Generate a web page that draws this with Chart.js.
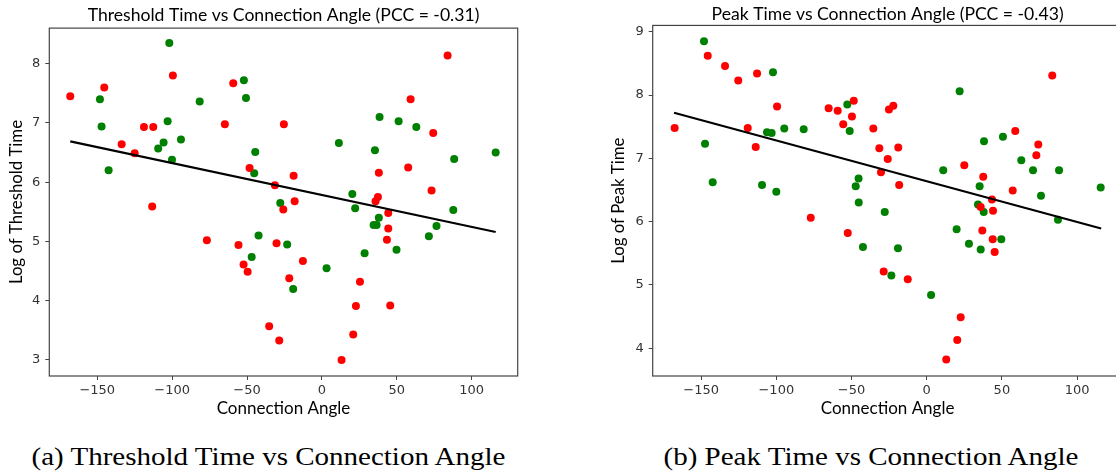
<!DOCTYPE html>
<html>
<head>
<meta charset="utf-8">
<script src="https://cdn.jsdelivr.net/npm/chart.js@4.4.1/dist/chart.umd.min.js"></script>
<style>
  html, body { margin: 0; padding: 0; background: #fff; overflow: hidden; width: 1116px; height: 472px; }
  .panel { position: absolute; top: 0; }
  .caption { position: absolute; top: 444px; text-align: center; font-family: "Liberation Serif", serif; font-size: 25px; line-height: 25px; color: #000; white-space: nowrap; transform: scaleX(1.16); transform-origin: center; }
</style>
</head>
<body>
<div class="panel" style="left:0"><canvas id="chart1" width="530" height="420"></canvas></div>
<div class="panel" style="left:600px"><canvas id="chart2" width="530" height="420"></canvas></div>
<div class="caption" style="left:0;width:537px">(a) Threshold Time vs Connection Angle</div>
<div class="caption" style="left:606px;width:530px">(b) Peak Time vs Connection Angle</div>
<script>
// tick labels
const xTickVals = [-150, -100, -50, 0, 50, 100];
const thrTickVals = [3, 4, 5, 6, 7, 8];
const peakTickVals = [4, 5, 6, 7, 8, 9];

// (a) threshold time
const thrRedAngle = [-168.0, -145.3, -133.7, -125.0, -118.8, -112.6, -113.3, -99.5, -76.8, -64.8, -59.2, -55.7, -52.3, -49.6, -48.3, -35.2, -31.4, -30.3, -28.5, -25.8, -25.4, -21.8, -18.9, -18.2, -12.7, 13.1, 20.9, 22.7, 25.4, 35.8, 37.4, 38.0, 43.4, 44.3, 44.3, 45.6, 57.6, 59.2, 73.2, 74.3, 83.9];
const thrRedLog = [7.45, 7.60, 6.64, 6.49, 6.93, 6.93, 5.59, 7.80, 5.02, 6.98, 7.67, 4.94, 4.61, 4.49, 6.24, 3.57, 5.95, 4.97, 3.33, 5.54, 6.98, 4.38, 6.11, 5.68, 4.67, 3.00, 3.43, 3.91, 4.32, 5.68, 5.75, 6.16, 5.03, 5.22, 5.48, 3.92, 6.25, 7.40, 5.86, 6.83, 8.14];
const thrGreenAngle = [-148.2, -147.1, -142.4, -109.3, -105.7, -103.0, -101.9, -100.1, -94.1, -81.6, -52.1, -50.7, -46.9, -45.2, -44.5, -42.3, -27.8, -23.2, -19.2, 3.1, 11.3, 20.3, 22.2, 28.5, 34.5, 35.4, 36.5, 38.0, 38.5, 49.8, 51.2, 63.0, 71.4, 76.5, 87.7, 88.3, 116.0];
const thrGreenLog = [7.40, 6.94, 6.20, 6.57, 6.67, 7.03, 8.35, 6.38, 6.72, 7.36, 7.72, 7.42, 4.74, 6.15, 6.51, 5.10, 5.65, 4.95, 4.20, 4.55, 6.66, 5.80, 5.56, 4.80, 5.28, 6.54, 5.28, 5.40, 7.10, 4.86, 7.03, 6.93, 5.09, 5.26, 5.53, 6.39, 6.50];

// (b) peak time
const peakRedAngle = [-167.6, -145.6, -134.1, -125.3, -119.0, -113.7, -112.8, -99.5, -77.1, -65.2, -59.2, -55.5, -52.5, -49.7, -48.5, -35.5, -31.5, -30.4, -28.6, -25.9, -25.1, -22.2, -18.9, -18.3, -12.6, 13.0, 20.3, 22.6, 25.0, 35.9, 37.0, 37.6, 43.4, 43.9, 44.1, 45.2, 57.2, 58.9, 72.9, 74.2, 83.5];
const peakRedLog = [7.48, 8.62, 8.46, 8.23, 7.48, 7.18, 8.34, 7.82, 6.06, 7.79, 7.75, 7.54, 5.82, 7.66, 7.91, 7.47, 7.16, 6.78, 5.21, 6.99, 7.77, 7.83, 7.17, 6.58, 5.09, 3.82, 4.13, 4.49, 6.89, 6.23, 5.86, 6.71, 6.35, 5.72, 6.17, 5.52, 6.49, 7.43, 7.05, 7.22, 8.31];
const peakGreenAngle = [-148.1, -147.4, -142.3, -109.5, -106.2, -103.1, -102.2, -100.0, -94.7, -81.8, -52.8, -51.2, -47.2, -45.3, -45.2, -42.4, -27.9, -23.5, -19.1, 2.9, 11.0, 19.9, 21.9, 28.1, 34.1, 35.2, 35.9, 37.9, 38.1, 49.6, 50.7, 62.9, 70.7, 76.0, 87.3, 88.0, 115.7];
const peakGreenLog = [8.85, 7.23, 6.62, 6.58, 7.41, 7.40, 8.36, 6.47, 7.47, 7.46, 7.85, 7.43, 6.56, 6.68, 6.30, 5.60, 6.15, 5.15, 5.58, 4.84, 6.81, 5.88, 8.06, 5.65, 6.27, 6.56, 5.56, 6.15, 7.27, 5.72, 7.34, 6.97, 6.81, 6.41, 6.03, 6.81, 6.54];

// fitted line end points
const fitAngle = [-168, 116];
const thrFitLog = [6.69, 5.16];
const peakFitLog = [7.72, 5.89];

const pts = (xs, ys) => xs.map((x, i) => ({ x: x, y: ys[i] }));
const minus = v => String(v).replace('-', '\u2212');

const boxPlugin = {
  id: 'box',
  afterDraw(chart) {
    const a = chart.chartArea, ctx = chart.ctx;
    ctx.save();
    ctx.strokeStyle = '#444';
    ctx.lineWidth = 1.2;
    ctx.strokeRect(a.left, a.top, a.right - a.left, a.bottom - a.top);
    ctx.restore();
  }
};

function makeChart(id, cfg) {
  return new Chart(document.getElementById(id), {
    type: 'scatter',
    data: {
      datasets: [
        { type: 'line', data: pts(fitAngle, cfg.fit), borderColor: '#000', borderWidth: 2.2, pointRadius: 0, order: 0 },
        { data: pts(cfg.redX, cfg.redY), backgroundColor: '#ff0000', borderWidth: 0, pointRadius: 4, order: 1 },
        { data: pts(cfg.greenX, cfg.greenY), backgroundColor: '#008000', borderWidth: 0, pointRadius: 4, order: 1 }
      ]
    },
    options: {
      responsive: false,
      animation: false,
      layout: { padding: { left: 0, right: cfg.padRight, top: 0, bottom: 0 } },
      plugins: {
        legend: { display: false },
        tooltip: { enabled: false },
        title: {
          display: true, fullSize: false, text: cfg.title, color: '#000',
          font: { family: 'Lato', size: 17.6, weight: 'normal' },
          padding: cfg.titlePad
        }
      },
      scales: {
        x: {
          type: 'linear', min: cfg.xMin, max: cfg.xMax,
          afterBuildTicks: s => { s.ticks = xTickVals.map(v => ({ value: v })); },
          afterFit: s => { s.height = 44; },
          grid: { drawOnChartArea: false, drawTicks: true, tickLength: 4, color: '#444' },
          border: { display: false },
          ticks: { callback: minus, color: '#333', padding: 3, maxRotation: 0, font: { family: 'DejaVu Sans', size: 13 } },
          title: { display: true, text: 'Connection Angle', color: '#000', font: { family: 'Lato', size: 17 }, padding: { top: 0, bottom: 0.8 } }
        },
        y: {
          type: 'linear', min: cfg.yMin, max: cfg.yMax,
          afterBuildTicks: s => { s.ticks = cfg.yTicks.map(v => ({ value: v })); },
          afterFit: s => { s.width = cfg.yWidth; },
          grid: { drawOnChartArea: false, drawTicks: true, tickLength: 4, color: '#444' },
          border: { display: false },
          ticks: { callback: minus, color: '#333', padding: 5, font: { family: 'DejaVu Sans', size: 13 } },
          title: { display: true, text: cfg.yLabel, color: '#000', font: { family: 'Lato', size: 16.8 }, padding: { top: cfg.yTitlePad, bottom: 0 } }
        }
      }
    },
    plugins: [boxPlugin]
  });
}

makeChart('chart1', {
  title: 'Threshold Time vs Connection Angle (PCC = -0.31)', yLabel: 'Log of Threshold Time',
  redX: thrRedAngle, redY: thrRedLog, greenX: thrGreenAngle, greenY: thrGreenLog, fit: thrFitLog,
  xMin: -182, xMax: 130.7, yMin: 2.73, yMax: 8.6, yTicks: thrTickVals,
  yWidth: 49.3, padRight: 12.3, titlePad: { top: 5, bottom: 2 }, yTitlePad: 6.8
});

makeChart('chart2', {
  title: 'Peak Time vs Connection Angle (PCC = -0.43)', yLabel: 'Log of Peak Time',
  redX: peakRedAngle, redY: peakRedLog, greenX: peakGreenAngle, greenY: peakGreenLog, fit: peakFitLog,
  xMin: -182.2, xMax: 130.2, yMin: 3.56, yMax: 9.1, yTicks: peakTickVals,
  yWidth: 52.7, padRight: 7.5, titlePad: { top: 3.7, bottom: 0.6 }, yTitlePad: 8.6
});
</script>
</body>
</html>
